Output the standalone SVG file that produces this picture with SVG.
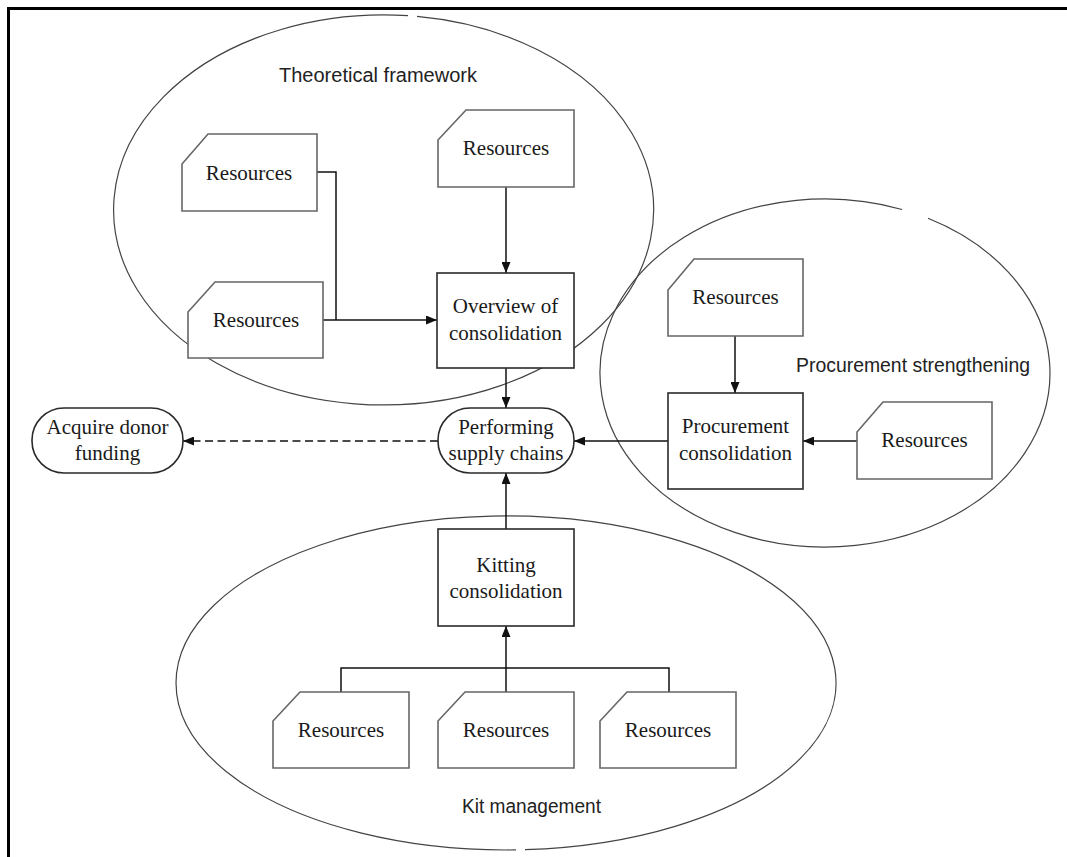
<svg xmlns="http://www.w3.org/2000/svg" width="1067" height="857" viewBox="0 0 1067 857">
<style>
.frame{stroke:#000;stroke-width:3;fill:none}
.ell{fill:none;stroke:#444;stroke-width:1.2}
.res{fill:#fff;stroke:#666;stroke-width:1.6}
.box{fill:#fff;stroke:#2a2a2a;stroke-width:1.6}
.t{font-family:"Liberation Serif","DejaVu Serif",serif;font-size:21px;fill:#1a1a1a;text-anchor:middle}
.lbl{font-family:"Liberation Sans","DejaVu Sans",sans-serif;font-size:19.5px;fill:#222}
.c{fill:none;stroke:#111;stroke-width:1.5}
.d{stroke-dasharray:8 4.5}
</style>
<defs>
<marker id="ah" markerUnits="userSpaceOnUse" markerWidth="11" markerHeight="9" refX="11" refY="4.5" orient="auto">
<path d="M0,0 L11,4.5 L0,9 z" fill="#111"/>
</marker>
</defs>
<rect width="1067" height="857" fill="#fff"/>
<path class="frame" d="M8.5,857 V8.5 H1067"/>

<g id="regions">
<path class="ell" d="M417,16.4 A270,195 0 1 1 408,15.7"/>
<path class="ell" d="M928,218.3 A225,174 0 1 1 902,209.5"/>
<path class="ell" d="M525,849.7 A330,167 0 1 0 516,849.9"/>
<text class="lbl" x="279" y="82" textLength="198" lengthAdjust="spacingAndGlyphs">Theoretical framework</text>
<text class="lbl" x="796" y="372" textLength="234" lengthAdjust="spacingAndGlyphs">Procurement strengthening</text>
<text class="lbl" x="462" y="813" textLength="139" lengthAdjust="spacingAndGlyphs">Kit management</text>
</g>

<g id="connectors">
<polyline class="c" points="317,172 336,172 336,320"/>
<line class="c" x1="323" y1="320" x2="437" y2="320" marker-end="url(#ah)"/>
<line class="c" x1="506" y1="187" x2="506" y2="273" marker-end="url(#ah)"/>
<line class="c" x1="506" y1="368" x2="506" y2="408" marker-end="url(#ah)"/>
<line class="c" x1="506" y1="529" x2="506" y2="473" marker-end="url(#ah)"/>
<line class="c d" x1="438" y1="441" x2="183" y2="441" marker-end="url(#ah)"/>
<line class="c" x1="668" y1="441" x2="574" y2="441" marker-end="url(#ah)"/>
<line class="c" x1="735" y1="336" x2="735" y2="393" marker-end="url(#ah)"/>
<line class="c" x1="857" y1="441" x2="803" y2="441" marker-end="url(#ah)"/>
<polyline class="c" points="341,692 341,668 669,668 669,692"/>
<line class="c" x1="506" y1="692" x2="506" y2="626" marker-end="url(#ah)"/>
</g>

<g id="res-tf-1"><path class="res" d="M208,134 H317 V211 H182 V164 Z"/><text class="t" x="249" y="180">Resources</text></g>
<g id="res-tf-2"><path class="res" d="M215,282 H323 V358 H188 V312 Z"/><text class="t" x="256" y="327">Resources</text></g>
<g id="res-tf-3"><path class="res" d="M466,110 H574 V187 H438 V140 Z"/><text class="t" x="506" y="155">Resources</text></g>
<g id="overview"><rect class="box" x="437" y="273" width="137" height="95"/><text class="t" x="505.5" y="313">Overview of</text><text class="t" x="505.5" y="340">consolidation</text></g>
<g id="performing"><rect class="box" x="438" y="408" width="136" height="65" rx="32" ry="32"/><text class="t" x="506" y="434">Performing</text><text class="t" x="506" y="460">supply chains</text></g>
<g id="acquire"><rect class="box" x="32" y="408" width="151" height="65" rx="32" ry="32"/><text class="t" x="107.5" y="434">Acquire donor</text><text class="t" x="107.5" y="460">funding</text></g>
<g id="res-ps-1"><path class="res" d="M694,259 H803 V336 H668 V290 Z"/><text class="t" x="735.5" y="304">Resources</text></g>
<g id="procurement"><rect class="box" x="668" y="393" width="135" height="96"/><text class="t" x="735.5" y="433">Procurement</text><text class="t" x="735.5" y="460">consolidation</text></g>
<g id="res-ps-2"><path class="res" d="M883,402 H992 V479 H857 V432 Z"/><text class="t" x="924.5" y="447">Resources</text></g>
<g id="kitting"><rect class="box" x="438" y="529" width="136" height="97"/><text class="t" x="506" y="572">Kitting</text><text class="t" x="506" y="598">consolidation</text></g>
<g id="res-km-1"><path class="res" d="M300,692 H409 V768 H273 V721 Z"/><text class="t" x="341" y="737">Resources</text></g>
<g id="res-km-2"><path class="res" d="M465,692 H574 V768 H438 V721 Z"/><text class="t" x="506" y="737">Resources</text></g>
<g id="res-km-3"><path class="res" d="M627,692 H736 V768 H600 V721 Z"/><text class="t" x="668" y="737">Resources</text></g>
</svg>
